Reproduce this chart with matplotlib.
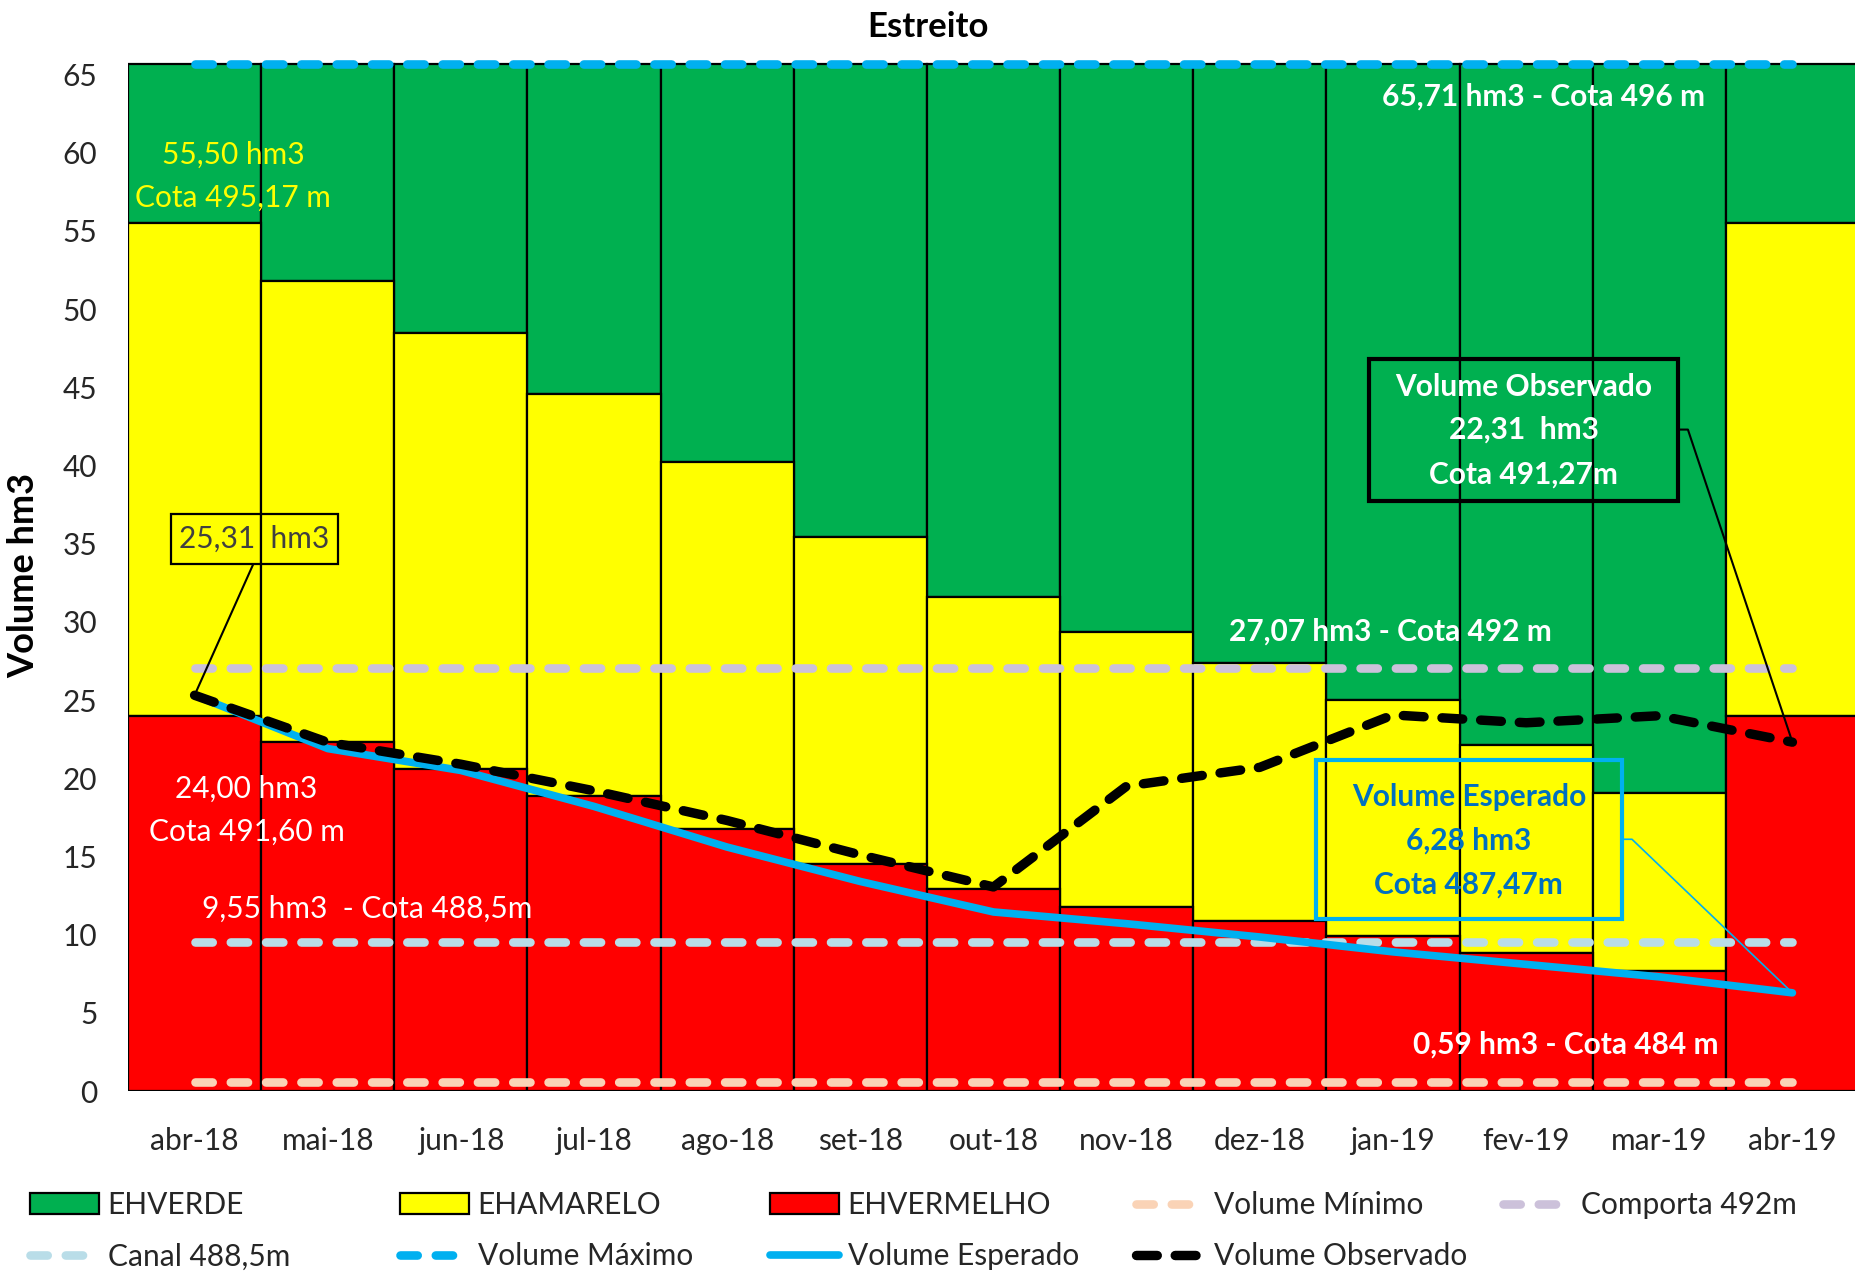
import numpy as np
import matplotlib.pyplot as plt
from matplotlib.patches import Rectangle

plt.rcParams['font.family'] = ['Lato', 'DejaVu Sans']

# dados
meses = ['abr-18', 'mai-18', 'jun-18', 'jul-18', 'ago-18', 'set-18', 'out-18',
         'nov-18', 'dez-18', 'jan-19', 'fev-19', 'mar-19', 'abr-19']
vermelho = [24.00, 22.30, 20.60, 18.85, 16.75, 14.55, 12.90, 11.80, 10.85, 9.90, 8.80, 7.70, 24.00]
amarelo_topo = [55.50, 51.80, 48.50, 44.60, 40.25, 35.40, 31.60, 29.35, 27.40, 25.00, 22.10, 19.05, 55.50]
verde_topo = [65.71, 65.71, 65.71, 65.71, 65.71, 65.71, 65.71, 65.71, 65.71, 65.71, 65.71, 65.71, 65.71]
esperado = [25.31, 21.90, 20.50, 18.20, 15.60, 13.40, 11.45, 10.70, 9.85, 8.90, 8.10, 7.30, 6.28]
observado = [25.31, 22.30, 20.90, 19.20, 17.30, 15.10, 13.05, 19.50, 20.70, 24.05, 23.55, 24.00, 22.31]

vol_minimo = 0.59
comporta = 27.07
canal = 9.55
vol_maximo = 65.71

x = np.arange(len(meses))
n = len(meses)
fs = 21.5

fig = plt.figure(figsize=(18.55, 12.71), dpi=100)
ax = fig.add_axes([0.069, 0.1416, 0.931, 0.812])

h_verm = np.array(vermelho)
h_amar = np.array(amarelo_topo) - h_verm
h_verd = np.array(verde_topo) - np.array(amarelo_topo)

b_verd = ax.bar(x, h_verd, 1.0, bottom=amarelo_topo, color='#00B050', edgecolor='black', linewidth=1.6, label='EHVERDE', zorder=1)
b_amar = ax.bar(x, h_amar, 1.0, bottom=vermelho, color='#FFFF00', edgecolor='black', linewidth=1.6, label='EHAMARELO', zorder=1)
b_verm = ax.bar(x, h_verm, 1.0, color='#FF0000', edgecolor='black', linewidth=1.6, label='EHVERMELHO', zorder=1)

def linha_ref(valor, cor, nome):
    l, = ax.plot(x, np.full(n, valor), color=cor, lw=6.2, dashes=(2.0, 2.1),
                 dash_capstyle='round', label=nome, zorder=3)
    return l

l_min = linha_ref(vol_minimo, '#FAD3B6', 'Volume Mínimo')
l_comp = linha_ref(comporta, '#CCC1DA', 'Comporta 492m')
l_canal = linha_ref(canal, '#B9DDE8', 'Canal 488,5m')
l_max = linha_ref(vol_maximo, '#00B0F0', 'Volume Máximo')

l_esp, = ax.plot(x, esperado, color='#00B0F0', lw=5.5, solid_capstyle='round', label='Volume Esperado', zorder=4)
l_obs, = ax.plot(x, observado, color='black', lw=6.8, dashes=(2.2, 1.9), dash_capstyle='round',
                 label='Volume Observado', zorder=5)

ax.set_xlim(-0.5, 12.47)
ax.set_ylim(0, 66)
ax.set_yticks(range(0, 70, 5))
ax.set_xticks(x)
ax.set_xticklabels(meses)
ax.tick_params(axis='both', length=0, labelsize=fs, colors='#262626')
ax.tick_params(axis='x', pad=26)
ax.tick_params(axis='y', pad=22)
for s in ax.spines.values():
    s.set_visible(False)
ax.set_ylabel('Volume hm3', fontsize=26, fontweight='bold')
ax.yaxis.set_label_coords(-0.051, 0.5)

fig.suptitle('Estreito', x=0.5, y=0.979, fontsize=25, fontweight='bold', va='center')

# textos
ax.text(0.29, 59.9, '55,50 hm3', color='#FFFF00', fontsize=fs, ha='center', va='center', zorder=6)
ax.text(0.29, 57.1, 'Cota 495,17 m', color='#FFFF00', fontsize=fs, ha='center', va='center', zorder=6)
ax.text(0.39, 19.3, '24,00 hm3', color='white', fontsize=fs, ha='center', va='center', zorder=6)
ax.text(0.39, 16.55, 'Cota 491,60 m', color='white', fontsize=fs, ha='center', va='center', zorder=6)
ax.text(1.30, 11.65, '9,55 hm3  - Cota 488,5m', color='white', fontsize=fs, ha='center', va='center', zorder=6)
ax.text(10.13, 63.6, '65,71 hm3 - Cota 496 m', color='white', fontsize=fs, fontweight='bold', ha='center', va='center', zorder=6)
ax.text(8.98, 29.4, '27,07 hm3 - Cota 492 m', color='white', fontsize=fs, fontweight='bold', ha='center', va='center', zorder=6)
ax.text(10.3, 2.94, '0,59 hm3 - Cota 484 m', color='white', fontsize=fs, fontweight='bold', ha='center', va='center', zorder=6)

# caixas com chamada
def caixa(x0, x1, y0, y1, cor, lw):
    ax.add_patch(Rectangle((x0, y0), x1 - x0, y1 - y0, fill=False, ec=cor, lw=lw, zorder=6))

caixa(-0.18, 1.08, 33.68, 36.93, 'black', 1.6)
ax.text(0.45, 35.3, '25,31  hm3', ha='center', va='center', fontsize=fs, color='#404040', zorder=6)
ax.annotate('', xy=(0, observado[0]), xytext=(0.44, 33.68),
            arrowprops=dict(arrowstyle='-', color='black', lw=1.5, shrinkA=0, shrinkB=0), zorder=6)

caixa(8.82, 11.14, 37.76, 46.84, 'black', 3)
for yy, t in zip([45.0, 42.33, 39.45], ['Volume Observado', '22,31  hm3', 'Cota 491,27m']):
    ax.text(9.98, yy, t, ha='center', va='center', fontsize=fs, fontweight='bold', color='white', zorder=6)
ax.annotate('', xy=(12, observado[-1]), xytext=(11.14, 42.3),
            arrowprops=dict(arrowstyle='-', color='black', lw=1.5, shrinkA=0, shrinkB=0,
                            connectionstyle='arc,angleA=0,armA=10,angleB=0,armB=0,rad=0'), zorder=6)

caixa(8.42, 10.72, 11.0, 21.2, '#00B0F0', 3)
for yy, t in zip([18.8, 16.0, 13.2], ['Volume Esperado', '6,28 hm3', 'Cota 487,47m']):
    ax.text(9.57, yy, t, ha='center', va='center', fontsize=fs, fontweight='bold', color='#0070C0', zorder=6)
ax.annotate('', xy=(12, esperado[-1]), xytext=(10.72, 16.1),
            arrowprops=dict(arrowstyle='-', color='#00B0F0', lw=1.2, shrinkA=0, shrinkB=0,
                            connectionstyle='arc,angleA=0,armA=10,angleB=0,armB=0,rad=0'), zorder=6)

# legenda em colunas fixas
itens = [(b_verd, 'EHVERDE'), (b_amar, 'EHAMARELO'), (b_verm, 'EHVERMELHO'),
         (l_min, 'Volume Mínimo'), (l_comp, 'Comporta 492m'),
         (l_canal, 'Canal 488,5m'), (l_max, 'Volume Máximo'),
         (l_esp, 'Volume Esperado'), (l_obs, 'Volume Observado')]
col_x = [30, 400, 770, 1136, 1503]
for i, cx in enumerate(col_x):
    col = itens[i::5]
    fig.legend([c[0] for c in col], [c[1] for c in col], loc='upper left',
               bbox_to_anchor=(cx / 1855, 1 - 1191 / 1271), frameon=False, fontsize=fs,
               handlelength=2.3, handletextpad=0.3, borderpad=0, borderaxespad=0,
               labelspacing=0.78, labelcolor='#262626')

fig.savefig('out.png', dpi=100)
